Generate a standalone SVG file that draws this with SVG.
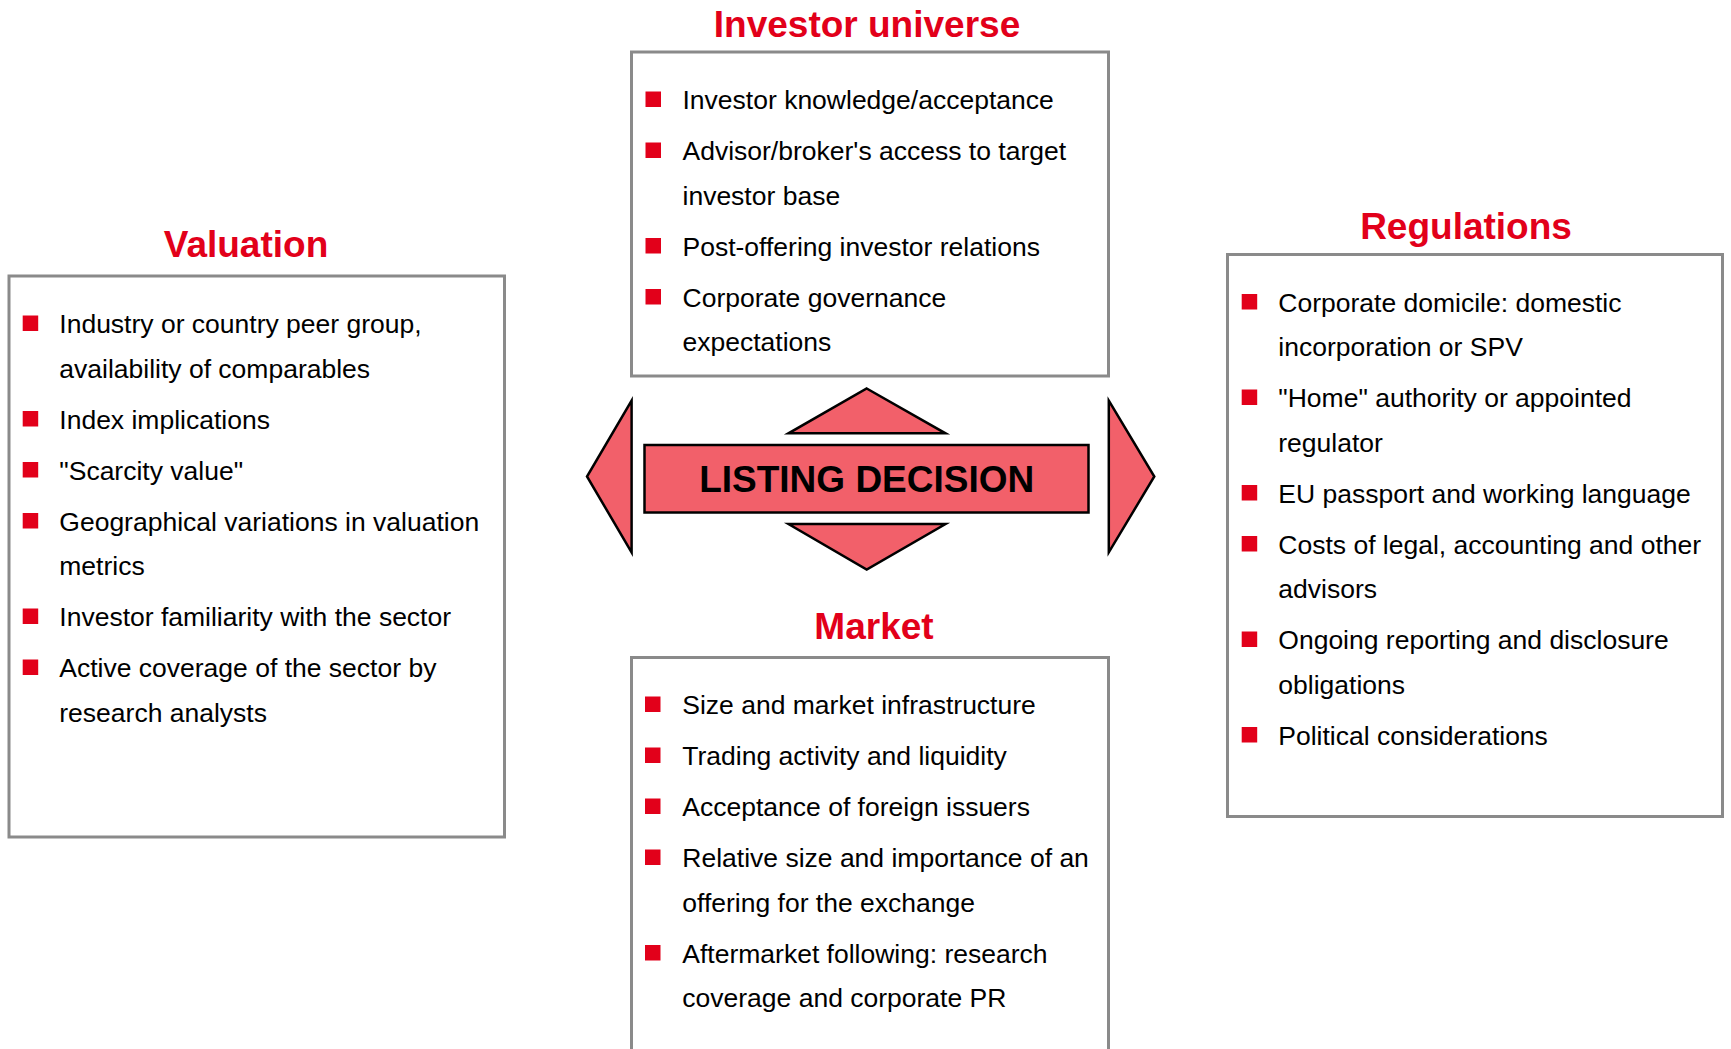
<svg xmlns="http://www.w3.org/2000/svg" width="1731" height="1049" viewBox="0 0 1731 1049">
  <style>
    .box { fill: #ffffff; stroke: #8a8a8a; stroke-width: 3; }
    .title { font-family: "Liberation Sans", Arial, sans-serif; font-weight: bold; font-size: 37px; fill: #e2001a; text-anchor: middle; }
    .item { font-family: "Liberation Sans", Arial, sans-serif; font-size: 26.5px; fill: #000000; }
    .bullet { fill: #e2001a; }
    .shape { fill: #f2606a; stroke: #000000; stroke-width: 2.5; stroke-linejoin: miter; }
    .center-label { font-family: "Liberation Sans", Arial, sans-serif; font-weight: bold; font-size: 37px; fill: #000000; text-anchor: middle; }
  </style>
  <defs>
    <rect id="sq" width="15.5" height="15.5" class="bullet"/>
  </defs>
  <rect width="1731" height="1049" fill="#ffffff"/>

  <!-- Investor universe -->
  <g id="investor-universe">
    <text class="title" x="867" y="37">Investor universe</text>
    <rect class="box" x="631.5" y="52" width="477" height="324"/>
    <use href="#sq" x="645.5" y="91.5"/>
    <text class="item" x="682.5" y="109">Investor knowledge/acceptance</text>
    <use href="#sq" x="645.5" y="142.5"/>
    <text class="item" x="682.5" y="160">Advisor/broker's access to target</text>
    <text class="item" x="682.5" y="204.5">investor base</text>
    <use href="#sq" x="645.5" y="238"/>
    <text class="item" x="682.5" y="255.5">Post-offering investor relations</text>
    <use href="#sq" x="645.5" y="289"/>
    <text class="item" x="682.5" y="306.5">Corporate governance</text>
    <text class="item" x="682.5" y="351">expectations</text>
  </g>

  <!-- Valuation -->
  <g id="valuation">
    <text class="title" x="246" y="257">Valuation</text>
    <rect class="box" x="9" y="276" width="495.5" height="561"/>
    <use href="#sq" x="22.7" y="315.5"/>
    <text class="item" x="59.3" y="333">Industry or country peer group,</text>
    <text class="item" x="59.3" y="377.5">availability of comparables</text>
    <use href="#sq" x="22.7" y="411"/>
    <text class="item" x="59.3" y="428.5">Index implications</text>
    <use href="#sq" x="22.7" y="462"/>
    <text class="item" x="59.3" y="479.5">"Scarcity value"</text>
    <use href="#sq" x="22.7" y="513"/>
    <text class="item" x="59.3" y="530.5">Geographical variations in valuation</text>
    <text class="item" x="59.3" y="575">metrics</text>
    <use href="#sq" x="22.7" y="608.5"/>
    <text class="item" x="59.3" y="626">Investor familiarity with the sector</text>
    <use href="#sq" x="22.7" y="659.5"/>
    <text class="item" x="59.3" y="677">Active coverage of the sector by</text>
    <text class="item" x="59.3" y="721.5">research analysts</text>
  </g>

  <!-- Regulations -->
  <g id="regulations">
    <text class="title" x="1466" y="239">Regulations</text>
    <rect class="box" x="1227.5" y="254.5" width="495" height="562"/>
    <use href="#sq" x="1241.7" y="294"/>
    <text class="item" x="1278.3" y="311.5">Corporate domicile: domestic</text>
    <text class="item" x="1278.3" y="356">incorporation or SPV</text>
    <use href="#sq" x="1241.7" y="389.5"/>
    <text class="item" x="1278.3" y="407">"Home" authority or appointed</text>
    <text class="item" x="1278.3" y="451.5">regulator</text>
    <use href="#sq" x="1241.7" y="485"/>
    <text class="item" x="1278.3" y="502.5">EU passport and working language</text>
    <use href="#sq" x="1241.7" y="536"/>
    <text class="item" x="1278.3" y="553.5">Costs of legal, accounting and other</text>
    <text class="item" x="1278.3" y="598">advisors</text>
    <use href="#sq" x="1241.7" y="631.5"/>
    <text class="item" x="1278.3" y="649">Ongoing reporting and disclosure</text>
    <text class="item" x="1278.3" y="693.5">obligations</text>
    <use href="#sq" x="1241.7" y="727"/>
    <text class="item" x="1278.3" y="744.5">Political considerations</text>
  </g>

  <!-- Market -->
  <g id="market">
    <text class="title" x="874" y="638.5">Market</text>
    <rect class="box" x="631.5" y="657.5" width="477" height="420"/>
    <use href="#sq" x="645" y="696.5"/>
    <text class="item" x="682.3" y="714">Size and market infrastructure</text>
    <use href="#sq" x="645" y="747.5"/>
    <text class="item" x="682.3" y="765">Trading activity and liquidity</text>
    <use href="#sq" x="645" y="798.5"/>
    <text class="item" x="682.3" y="816">Acceptance of foreign issuers</text>
    <use href="#sq" x="645" y="849.5"/>
    <text class="item" x="682.3" y="867">Relative size and importance of an</text>
    <text class="item" x="682.3" y="911.5">offering for the exchange</text>
    <use href="#sq" x="645" y="945"/>
    <text class="item" x="682.3" y="962.5">Aftermarket following: research</text>
    <text class="item" x="682.3" y="1007">coverage and corporate PR</text>
  </g>

  <!-- Arrowheads pointing from the decision to each factor -->
  <g id="connectors">
    <polygon class="shape" points="866.7,388.5 945.5,433.3 788.5,433.3"/>
    <polygon class="shape" points="788.5,524 945.5,524 866.7,569.5"/>
    <polygon class="shape" points="631.6,400.7 631.6,552.3 587,476.5"/>
    <polygon class="shape" points="1108.8,400.7 1154.3,476.5 1108.8,552.3"/>
  </g>

  <!-- Central decision -->
  <g id="listing-decision">
    <rect class="shape" x="644.5" y="445" width="444" height="67.5"/>
    <text class="center-label" x="866.7" y="491.5">LISTING DECISION</text>
  </g>
</svg>
